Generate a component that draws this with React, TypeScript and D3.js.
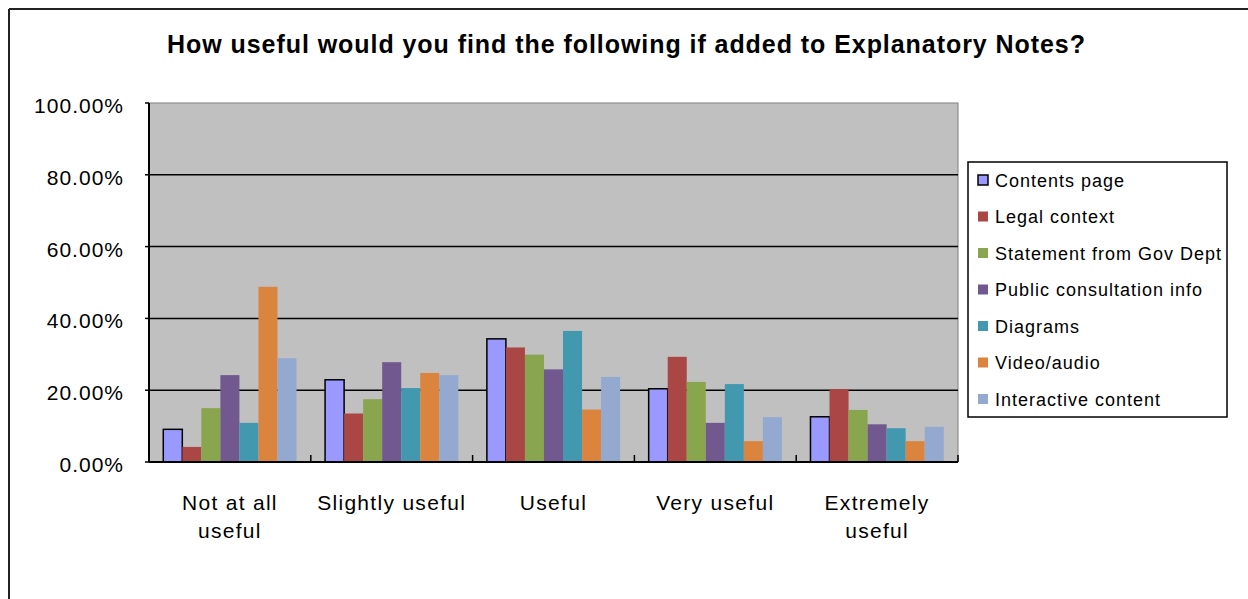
import React from "react";
import * as d3 from "d3";

const title = "How useful would you find the following if added to Explanatory Notes?";
const categories = ["Not at all useful", "Slightly useful", "Useful", "Very useful", "Extremely useful"];
const seriesNames = [
  "Contents page",
  "Legal context",
  "Statement from Gov Dept",
  "Public consultation info",
  "Diagrams",
  "Video/audio",
  "Interactive content",
];
const seriesColors = ["#9999FF", "#AA4643", "#89A54E", "#71588F", "#4198AF", "#DB843D", "#93A9CF"];
const contentsPage = [0.091, 0.229, 0.343, 0.204, 0.126];
const legalContext = [0.042, 0.135, 0.319, 0.293, 0.203];
const statementFromGovDept = [0.15, 0.175, 0.299, 0.223, 0.145];
const publicConsultationInfo = [0.242, 0.278, 0.258, 0.109, 0.105];
const diagrams = [0.109, 0.206, 0.365, 0.217, 0.094];
const videoAudio = [0.488, 0.248, 0.146, 0.058, 0.058];
const interactiveContent = [0.289, 0.242, 0.237, 0.125, 0.098];
const seriesValues = [
  contentsPage,
  legalContext,
  statementFromGovDept,
  publicConsultationInfo,
  diagrams,
  videoAudio,
  interactiveContent,
];
const yTicks = [0, 0.2, 0.4, 0.6, 0.8, 1.0];

function wrapLabel(s: string): string[] {
  if (s.length <= 15) return [s];
  const i = s.lastIndexOf(" ");
  return [s.slice(0, i), s.slice(i + 1)];
}

export default function App() {
  const W = 1248;
  const H = 599;
  const plot = { left: 149, top: 103, right: 958, bottom: 462 };
  const x0 = d3.scaleBand<string>().domain(categories).range([plot.left, plot.right]).padding(0);
  const bw = x0.bandwidth();
  const unit = bw / 8.5;
  const x1 = d3
    .scaleBand<string>()
    .domain(seriesNames)
    .range([unit * 0.75, unit * 7.75])
    .padding(0);
  const y = d3.scaleLinear().domain([0, 1]).range([plot.bottom, plot.top]);
  const fmt = d3.format(".2%");
  const font = "'Liberation Sans', Arial, sans-serif";

  return (
    <svg
      width={W}
      height={H}
      style={{ position: "absolute", left: 0, top: 0, background: "#fff" }}
      fontFamily={font}
    >
      {/* outer chart border */}
      <line x1={9} y1={9} x2={W} y2={9} stroke="#222" strokeWidth={2} />
      <line x1={9} y1={9} x2={9} y2={H} stroke="#222" strokeWidth={2} />

      <text
        x={626}
        y={53}
        textAnchor="middle"
        fontWeight="bold"
        fontSize={25}
        textLength={918}
        lengthAdjust="spacing"
        fill="#000"
      >
        {title}
      </text>

      {/* plot area */}
      <rect
        x={plot.left}
        y={plot.top}
        width={plot.right - plot.left}
        height={plot.bottom - plot.top}
        fill="#C0C0C0"
        stroke="#808080"
        strokeWidth={1}
      />
      {yTicks
        .filter((t) => t > 0 && t < 1)
        .map((t) => (
          <line key={t} x1={plot.left} x2={plot.right} y1={y(t)} y2={y(t)} stroke="#000" strokeWidth={1.5} />
        ))}

      {/* bars */}
      {categories.map((c, ci) => (
        <g key={c} transform={`translate(${x0(c)},0)`}>
          {seriesNames.map((s, si) => {
            const v = seriesValues[si][ci];
            const bx = x1(s)!;
            const isFirst = si === 0;
            return (
              <rect
                key={s}
                x={bx}
                y={y(v)}
                width={x1.bandwidth()}
                height={y(0) - y(v)}
                fill={seriesColors[si]}
                stroke={isFirst ? "#000" : "none"}
                strokeWidth={isFirst ? 1.5 : 0}
              />
            );
          })}
        </g>
      ))}

      {/* axes */}
      <line x1={plot.left} x2={plot.left} y1={plot.top} y2={plot.bottom} stroke="#000" strokeWidth={2} />
      <line x1={plot.left} x2={plot.right} y1={plot.bottom} y2={plot.bottom} stroke="#000" strokeWidth={2} />
      {yTicks.map((t) => (
        <g key={t}>
          <line x1={plot.left - 4} x2={plot.left} y1={y(t)} y2={y(t)} stroke="#000" strokeWidth={1.5} />
          <text x={124} y={y(t) + 10} textAnchor="end" fontSize={21} letterSpacing={1} fill="#000">
            {fmt(t)}
          </text>
        </g>
      ))}
      {categories.map((c) => (
        <line
          key={c}
          x1={x0(c)! + bw}
          x2={x0(c)! + bw}
          y1={plot.bottom - 7}
          y2={plot.bottom}
          stroke="#000"
          strokeWidth={1.5}
        />
      ))}
      {categories.map((c) => (
        <text key={c} x={x0(c)! + bw / 2} textAnchor="middle" fontSize={21} letterSpacing={1.3} fill="#000">
          {wrapLabel(c).map((line, li) => (
            <tspan key={li} x={x0(c)! + bw / 2} y={510 + li * 28}>
              {line}
            </tspan>
          ))}
        </text>
      ))}

      {/* legend */}
      <rect x={968} y={162} width={259} height={255} fill="#fff" stroke="#000" strokeWidth={1.5} />
      {seriesNames.map((s, i) => {
        const cy = 180 + i * 36.5;
        return (
          <g key={s}>
            <rect
              x={978}
              y={cy - 5}
              width={10}
              height={10}
              fill={seriesColors[i]}
              stroke={i === 0 ? "#000" : "none"}
              strokeWidth={i === 0 ? 1.5 : 0}
            />
            <text x={995} y={cy + 6.5} fontSize={18} letterSpacing={1} fill="#000">
              {s}
            </text>
          </g>
        );
      })}
    </svg>
  );
}
